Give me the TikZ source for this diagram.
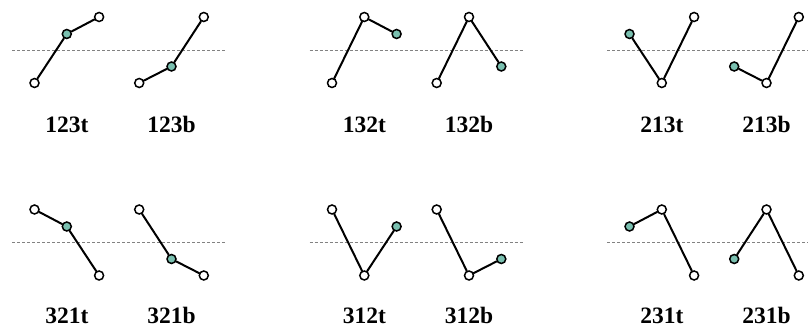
\documentclass[tikz,border=0pt]{standalone}
\usepackage{fontspec}
\newfontfamily\labfont{Liberation Serif}
\definecolor{tealpt}{RGB}{122,192,176}
\definecolor{guidegray}{RGB}{130,130,130}
\tikzset{
  pt/.style={circle,draw=black,line width=1.5pt,fill=white,inner sep=0pt,minimum size=9pt},
  midpt/.style={pt,fill=tealpt},
  seg/.style={line width=2pt,line cap=round},
  guide/.style={guidegray,dash pattern=on 3pt off 2pt,line width=0.9pt},
  lab/.style={font=\labfont\fontsize{23.5}{28}\selectfont\bfseries,anchor=base,inner sep=0pt}
}
\begin{document}
\begin{tikzpicture}[x=1pt,y=-1pt]
\useasboundingbox (0,0) rectangle (808,328);
% guide lines
\foreach \gx/\gy in {12/50, 309.5/50, 607/50, 12/242.5, 309.5/242.5, 607/242.5}
  \draw[guide] (\gx,\gy) -- ++(214.5,0);
% panels
\foreach \name/\x/\yo/\ya/\yb/\yc/\sa/\sb/\sc in {
  123t/34.5/0/83/34/17/pt/midpt/pt,
  123b/139.2/0/83/66.5/17/pt/midpt/pt,
  132t/332/0/83/17/34/pt/pt/midpt,
  132b/436.7/0/83/17/66.5/pt/pt/midpt,
  213t/629.5/0/34/83/17/midpt/pt/pt,
  213b/734.2/0/66.5/83/17/midpt/pt/pt,
  321t/34.5/192.5/17/34/83/pt/midpt/pt,
  321b/139.2/192.5/17/66.5/83/pt/midpt/pt,
  312t/332/192.5/17/83/34/pt/pt/midpt,
  312b/436.7/192.5/17/83/66.5/pt/pt/midpt,
  231t/629.5/192.5/34/17/83/midpt/pt/pt,
  231b/734.2/192.5/66.5/17/83/midpt/pt/pt}
{
  \node[\sa] (\name-1) at (\x,\yo+\ya) {};
  \node[\sb] (\name-2) at (\x+32.3,\yo+\yb) {};
  \node[\sc] (\name-3) at (\x+64.6,\yo+\yc) {};
  \draw[seg] (\name-1) -- (\name-2);
  \draw[seg] (\name-2) -- (\name-3);
}
\foreach \name/\lx/\ly in {123t/66.8/133, 123b/171.5/133, 132t/364.3/133, 132b/469/133, 213t/661.8/133, 213b/766.5/133,
  321t/66.8/324, 321b/171.5/324, 312t/364.3/324, 312b/469/324, 231t/661.8/324, 231b/766.5/324}
  \node[lab] (\name-l) at (\lx,\ly) {\name};
\end{tikzpicture}
\end{document}
